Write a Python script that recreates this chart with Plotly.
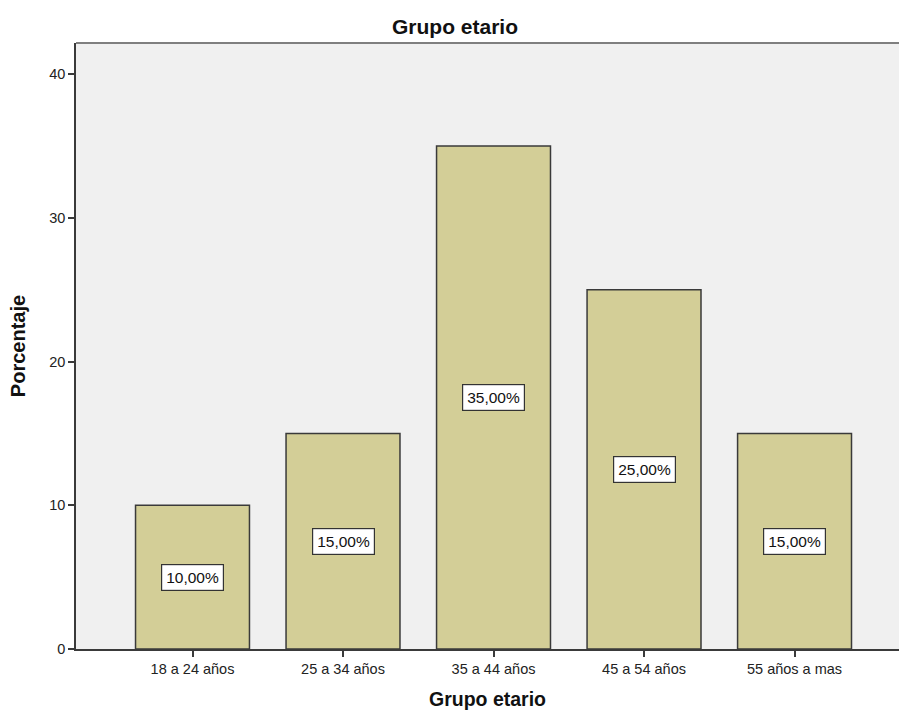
import plotly.graph_objects as go

# Distribución por grupo etario (porcentaje)
categorias = ["18 a 24 años", "25 a 34 años", "35 a 44 años", "45 a 54 años", "55 años a mas"]
porcentajes = [10.0, 15.0, 35.0, 25.0, 15.0]
etiquetas = [f"{v:.2f}%".replace(".", ",") for v in porcentajes]
y_ticks = [0, 10, 20, 30, 40]

posiciones = list(range(len(categorias)))

FONT = "Liberation Sans, Arial, sans-serif"
BAR_COLOR = "#D3CE97"
EDGE = "#3a3a3a"

fig = go.Figure()
fig.add_trace(go.Bar(
    x=posiciones,
    y=porcentajes,
    width=0.757,
    marker=dict(color=BAR_COLOR, line=dict(color=EDGE, width=1.5)),
    hoverinfo="skip",
))

# Etiquetas de valor en recuadro blanco, a media altura de cada barra
for xpos, v, t in zip(posiciones, porcentajes, etiquetas):
    fig.add_annotation(
        x=xpos, y=v / 2, text=t, showarrow=False,
        font=dict(family=FONT, size=15.5, color="#111"),
        bgcolor="white", bordercolor="#333", borderwidth=1.2, borderpad=4,
    )

# Borde superior del área de trazado
fig.add_shape(type="line", xref="paper", yref="paper", x0=0, x1=1, y0=1, y1=1,
              line=dict(color="#7f7f7f", width=2))

fig.update_layout(
    width=899, height=717,
    margin=dict(l=76, r=0, t=43, b=68),
    paper_bgcolor="white",
    plot_bgcolor="#F0F0F0",
    showlegend=False,
    font=dict(family=FONT, size=14, color="#222"),
    title=dict(
        text="<b>Grupo etario</b>",
        x=455 / 899, xref="container", xanchor="center",
        y=1 - 27 / 717, yref="container", yanchor="middle",
        font=dict(family=FONT, size=21, color="#111"),
    ),
    xaxis=dict(
        range=[-0.774, 4.694],
        tickmode="array", tickvals=posiciones, ticktext=categorias,
        ticks="outside", ticklen=6, tickwidth=1.5, tickcolor=EDGE,
        showline=True, linecolor=EDGE, linewidth=1.5,
        showgrid=False, zeroline=False,
        tickfont=dict(family=FONT, size=14.5, color="#222"),
        title=dict(text="<b>Grupo etario</b>", standoff=16,
                   font=dict(family=FONT, size=19.5, color="#111")),
    ),
    yaxis=dict(
        range=[0, 42.16],
        tickmode="array", tickvals=y_ticks,
        ticks="outside", ticklen=6, tickwidth=1.5, tickcolor=EDGE,
        showline=True, linecolor=EDGE, linewidth=1.5,
        showgrid=False, zeroline=False,
        tickfont=dict(family=FONT, size=14.5, color="#222"),
        title=dict(text="<b>Porcentaje</b>", standoff=18,
                   font=dict(family=FONT, size=20, color="#111")),
    ),
)

fig.write_html("out.html")
